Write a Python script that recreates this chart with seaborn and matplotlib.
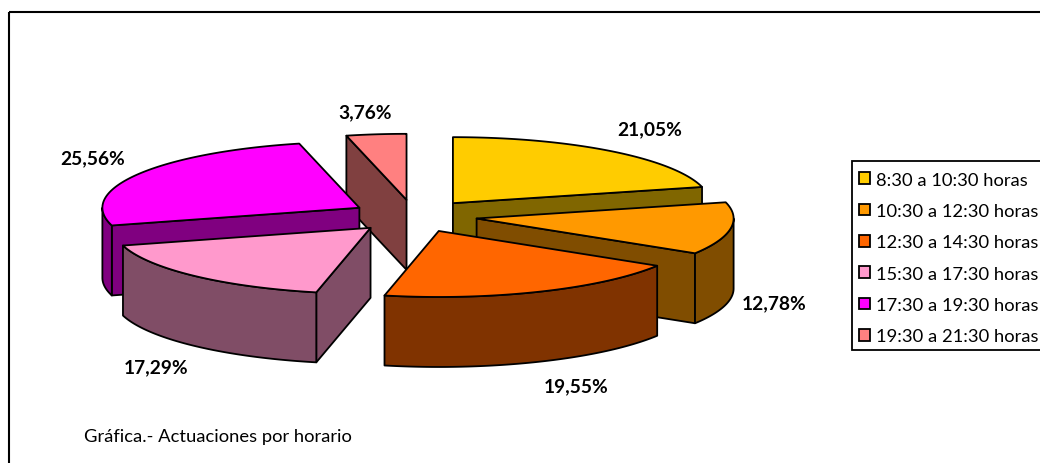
import numpy as np
import matplotlib
matplotlib.use("Agg")
import matplotlib.pyplot as plt
from matplotlib.patches import Patch, Rectangle
import seaborn as sns

categories = ["8:30 a 10:30 horas", "10:30 a 12:30 horas", "12:30 a 14:30 horas",
              "15:30 a 17:30 horas", "17:30 a 19:30 horas", "19:30 a 21:30 horas"]
shares = [21.05, 12.78, 19.55, 17.29, 25.56, 3.76]
share_labels = ["21,05%", "12,78%", "19,55%", "17,29%", "25,56%", "3,76%"]
caption = "Gráfica.- Actuaciones por horario"

top_hex = ["#FFCC00", "#FF9900", "#FF6600", "#FF99CC", "#FF00FF", "#FF8080"]
side_hex = ["#806600", "#804D00", "#803300", "#804D66", "#800080", "#804040"]

# Layout in figure pixels
CX, CY = 414, 217
RX, RY = 257, 66
EXPLODE = 0.2465
DEPTH = 70
LABEL_POS = [(650, 130), (774, 304), (576, 387), (156, 368), (93, 159), (365, 113)]
DRAW_ORDER = [5, 0, 4, 1, 3, 2]

sns.set_theme(style="white")
plt.rcParams["font.family"] = ["Lato", "DejaVu Sans"]
top_colors = sns.color_palette(top_hex)
side_colors = sns.color_palette(side_hex)

fig, ax = plt.subplots(figsize=(10.4, 4.64), dpi=100)
ax.set_position([0, 0, 1, 1])
ax.set_xlim(0, 1040)
ax.set_ylim(464, 0)
ax.axis("off")

# Outer chart frame runs past the picture on the right and at the bottom
ax.add_patch(Rectangle((8.5, 12.5), 1100, 500, fill=False, ec="black", lw=1.5, zorder=0))

edges = np.cumsum([0] + shares) / np.sum(shares) * 2 * np.pi


def project(theta, radius=1.0):
    return RX * radius * np.sin(theta), -RY * radius * np.cos(theta)


EDGE = dict(edgecolor="black", linewidth=1.3, joinstyle="round")

for z, i in enumerate(DRAW_ORDER):
    t0, t1 = edges[i], edges[i + 1]
    mid = (t0 + t1) / 2
    ox, oy = project(mid, EXPLODE)
    ax0, ay0 = CX + ox, CY + oy
    th = np.linspace(t0, t1, 120)
    px, py = project(th)
    arc_x, arc_y = ax0 + px, ay0 + py
    base = 2 + z * 3

    # radial faces turned towards the viewer
    for theta, visible in ((t0, np.sin(t0) < 0), (t1, np.sin(t1) > 0)):
        if visible:
            ex, ey = project(theta)
            ax.fill([ax0, ax0 + ex, ax0 + ex, ax0],
                    [ay0, ay0 + ey, ay0 + ey + DEPTH, ay0 + DEPTH],
                    facecolor=side_colors[i], zorder=base, **EDGE)
    # front part of the rim
    lo, hi = max(t0, np.pi / 2), min(t1, 3 * np.pi / 2)
    if hi > lo:
        tr = np.linspace(lo, hi, 120)
        rx_, ry_ = project(tr)
        xs = ax0 + rx_
        ys = ay0 + ry_
        ax.fill(np.r_[xs, xs[::-1]], np.r_[ys, ys[::-1] + DEPTH],
                facecolor=side_colors[i], zorder=base + 1, **EDGE)
    # top
    ax.fill(np.r_[ax0, arc_x], np.r_[ay0, arc_y],
            facecolor=top_colors[i], zorder=base + 2, **EDGE)

for (x, y), s in zip(LABEL_POS, share_labels):
    ax.text(x, y, s, ha="center", va="center", fontsize=13.8, fontweight="bold",
            color="black", zorder=40)

ax.text(84, 437, caption, ha="left", va="center", fontsize=13.2, color="black", zorder=40)

# Legend box runs past the picture's right edge
ax.add_patch(Rectangle((851.5, 161.5), 260, 189, facecolor="white", edgecolor="black",
                       lw=1.3, zorder=45))
handles = [Patch(facecolor=c, edgecolor="black", linewidth=1.3) for c in top_colors]
leg = ax.legend(handles, categories,
                bbox_to_anchor=(851.5, 165), bbox_transform=ax.transData,
                loc="upper left", borderaxespad=0, borderpad=0.42,
                ncol=1, fontsize=13.2, handlelength=0.6, handleheight=0.6,
                handletextpad=0.3, labelspacing=0.835, frameon=False, labelcolor="black")
leg.set_zorder(50)

fig.savefig("out.png", dpi=100, facecolor="white")
